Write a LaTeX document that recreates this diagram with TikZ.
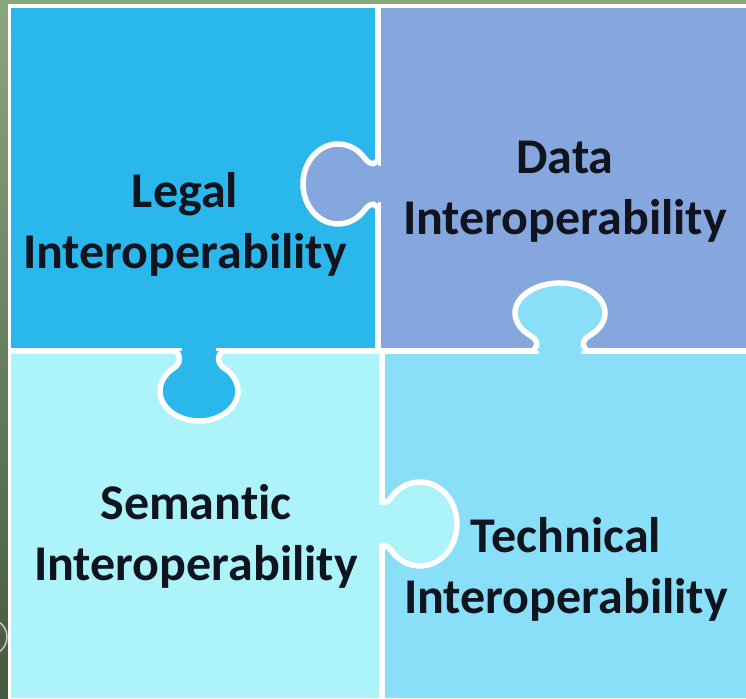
\documentclass[tikz,border=0pt]{standalone}
\usepackage{fontspec}
\setmainfont[Ligatures=NoCommon]{Carlito}
\definecolor{legalc}{RGB}{42,183,236}
\definecolor{datac}{RGB}{134,167,222}
\definecolor{semc}{RGB}{172,244,250}
\definecolor{techc}{RGB}{136,223,247}
\definecolor{bgtop}{RGB}{138,166,126}
\definecolor{bgbot}{RGB}{70,88,64}
\definecolor{textc}{RGB}{15,20,30}
\tikzset{
  seam/.style={draw=white, line width=5.5pt},
  lbl/.style={font=\fontsize{50}{61}\selectfont\bfseries, text=textc, align=center, inner sep=0pt}
}
% #1 shift, #2 rotate, #3 half width of bulb, #4 half length of bulb, #5 bulb centre distance, #6 colour
\newcommand\puzzleknob[6]{%
  \begin{scope}[shift={#1}, rotate=#2]
    \pgfmathsetmacro\kEx{#3*cos(50)}
    \pgfmathsetmacro\kEy{#5-#4*sin(50)}
    \pgfmathsetmacro\kTx{#3*sin(50)}
    \pgfmathsetmacro\kTy{#4*cos(50)}
    \pgfmathsetmacro\kTn{sqrt(\kTx*\kTx+\kTy*\kTy)}
    \pgfmathsetmacro\kCx{10*\kTx/\kTn}
    \pgfmathsetmacro\kCy{10*\kTy/\kTn}
    \pgfmathsetmacro\kH{\kEx+1.5}
    \pgfmathsetmacro\kR{\kEx-8}
    \fill[#6] (\kH,0) .. controls +(-8,0) and +(-\kCx,-\kCy) .. (\kEx,\kEy)
      arc[start angle=-50, end angle=230, x radius=#3, y radius=#4]
      .. controls +(\kCx,-\kCy) and +(8,0) .. (-\kH,0) -- cycle;
    \fill[#6] (-\kR,-3.5) rectangle (\kR,3);
    \draw[seam] (\kH,0) .. controls +(-8,0) and +(-\kCx,-\kCy) .. (\kEx,\kEy)
      arc[start angle=-50, end angle=230, x radius=#3, y radius=#4]
      .. controls +(\kCx,-\kCy) and +(8,0) .. (-\kH,0);
  \end{scope}}
\begin{document}
\begin{tikzpicture}[x=1pt, y=1pt]
\useasboundingbox (0,0) rectangle (746,698);
% background
\fill[bgtop] (0,0) rectangle (746,698);
\shade[top color=bgtop, bottom color=bgbot] (0,0) rectangle (8,694);
\draw[gray!45!white, line width=1.5pt] (-11,61) circle (18);
% white frame
\fill[white] (8,0) rectangle (746,694);
% pieces
\fill[legalc] (11,347) rectangle (378,690);
\fill[datac] (378,347) rectangle (746,690);
\fill[semc] (11,0) rectangle (382,347);
\fill[techc] (382,0) rectangle (746,347);
% seams
\draw[seam] (8,347) -- (746,347);
\draw[seam] (378,347) -- (378,694);
\draw[seam] (382,0) -- (382,347);
% knobs
\puzzleknob{(378,514)}{90}{40}{35}{40}{datac}
\puzzleknob{(199,347)}{180}{39}{30}{40}{legalc}
\puzzleknob{(382,174)}{-90}{42}{37}{38}{semc}
\puzzleknob{(560,347)}{0}{45}{30}{38}{techc}
% labels
\node[lbl] (legal) at (185,474) {Legal\\Interoperability};
\node[lbl] (data) at (565,506) {Data\\Interoperability};
\node[lbl] (semantic) at (196,162) {Semantic\\Interoperability};
\node[lbl] (technical) at (566,129) {Technical\\Interoperability};
\end{tikzpicture}
\end{document}
